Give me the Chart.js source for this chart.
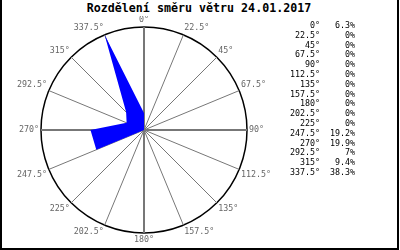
<!DOCTYPE html>
<html>
<head>
<meta charset="utf-8">
<script src="https://cdn.jsdelivr.net/npm/chart.js@4/dist/chart.umd.min.js"></script>
<style>
  html, body { margin: 0; padding: 0; background: #fff; }
  #wrap { position: relative; width: 400px; height: 250px; overflow: hidden; background: #fff; }
  #title { position: absolute; left: 0; top: 1px; width: 398px; text-align: center;
    font: bold 11.67px "DejaVu Sans Mono", monospace; color: #000; line-height: 14px; white-space: pre; }
  #chart { position: absolute; left: 0; top: 16px; }
  #legend { position: absolute; left: 255px; top: 21px; font: 8.33px "DejaVu Sans Mono", monospace; color: #000; }
  .row { position: relative; height: 9.8px; line-height: 9.8px; white-space: pre; }
  .c1 { position: absolute; left: 0; width: 65px; text-align: right; }
  .c2 { position: absolute; left: 65px; width: 35px; text-align: right; }
  .ln { position: absolute; background: #000; }
</style>
</head>
<body>
<div id="wrap">
  <div id="title"></div>
  <canvas id="chart" width="288" height="230"></canvas>
  <div id="legend"></div>
  <div class="ln" style="left:0;top:0;width:2px;height:250px"></div>
  <div class="ln" style="left:397px;top:0;width:2px;height:250px"></div>
  <div class="ln" style="left:0;top:248px;width:399px;height:2px"></div>
</div>
<script>
const titleText = 'Rozdělení směru větru 24.01.2017';
const directions = ['0°','22.5°','45°','67.5°','90°','112.5°','135°','157.5°','180°','202.5°','225°','247.5°','270°','292.5°','315°','337.5°'];
const values = [6.3, 0, 0, 0, 0, 0, 0, 0, 0, 0, 0, 19.2, 19.9, 7, 9.4, 38.3];

document.getElementById('title').textContent = titleText;
const legend = document.getElementById('legend');
directions.forEach((d, i) => {
  const row = document.createElement('div');
  row.className = 'row';
  const a = document.createElement('span'); a.className = 'c1'; a.textContent = d;
  const b = document.createElement('span'); b.className = 'c2'; b.textContent = values[i] + '%';
  row.appendChild(a); row.appendChild(b);
  legend.appendChild(row);
});

const maxVal = Math.max(...values);

new Chart(document.getElementById('chart'), {
  type: 'radar',
  data: {
    labels: directions,
    datasets: [{
      data: values,
      backgroundColor: '#0000ff',
      borderColor: 'rgba(0,0,0,0)',
      borderWidth: 0,
      pointRadius: 0,
      pointHoverRadius: 0,
      fill: true,
      tension: 0
    }]
  },
  options: {
    responsive: false,
    animation: false,
    devicePixelRatio: 1,
    layout: { padding: 0 },
    plugins: { legend: { display: false }, title: { display: false }, tooltip: { enabled: false } },
    scales: {
      r: {
        min: 0,
        max: maxVal,
        afterBuildTicks: (scale) => { scale.ticks = [{ value: 0 }, { value: maxVal }]; },
        ticks: { display: false },
        grid: { circular: true, color: '#000', lineWidth: 1.5 },
        angleLines: {
          display: true,
          color: '#777',
          lineWidth: (ctx) => (ctx.index % 4 === 0 ? 2 : 1)
        },
        pointLabels: {
          display: true,
          padding: 2,
          color: '#666',
          font: { family: '"DejaVu Sans Mono", monospace', size: 8.33, lineHeight: 1.2 }
        }
      }
    }
  }
});
</script>
</body>
</html>
